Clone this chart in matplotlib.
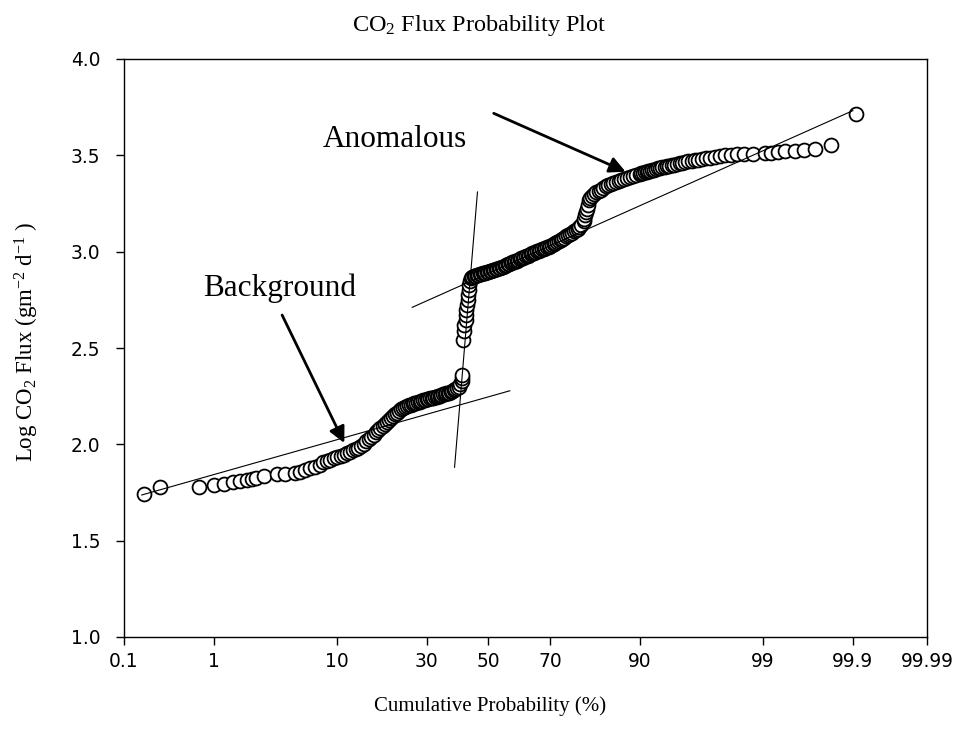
from statistics import NormalDist

import numpy as np
import matplotlib
matplotlib.use("Agg")
import matplotlib.pyplot as plt

plt.rcParams["font.family"] = "DejaVu Sans"
plt.rcParams["mathtext.fontset"] = "custom"
plt.rcParams["mathtext.rm"] = "Liberation Serif"
plt.rcParams["mathtext.it"] = "Liberation Serif:italic"

# cumulative probability (%) and log10 CO2 flux, in rank order
cum_prob = [
    0.175, 0.27, 0.71, 0.99, 1.26, 1.53, 1.76, 2.02, 2.24, 2.44, 2.83, 3.64,
    4.24, 5.07, 5.52, 6.02, 6.54, 7.09, 7.69,
    8, 8.5, 9, 9.5, 10, 10.5, 11, 11.5, 12, 12.5, 13, 13.5, 14, 14.5, 15, 15.5,
    16, 16.5, 17, 17.5, 18, 18.5, 19, 19.5, 20, 20.5, 21, 21.5, 22, 22.5, 23,
    23.5, 24, 24.5, 25, 25.5, 26, 26.5, 27, 27.5, 28, 28.5, 29, 29.5, 30, 30.5,
    31, 31.5, 32, 32.5, 33, 33.5, 34, 34.5, 35, 35.5, 36, 36.5, 37, 37.5, 38,
    38.5, 39, 39.5, 40, 40.5, 41, 41.2, 41.3,
    41.5, 41.7, 41.9, 42.3, 42.5, 42.6, 42.8, 43.0, 43.2, 43.4, 43.6, 43.8,
    44, 44.5, 45, 45.5, 46, 46.5, 47, 47.5, 48, 48.5, 49, 49.5, 50, 50.5, 51,
    51.5, 52, 52.5, 53, 53.5, 54, 54.5, 55, 55.5, 56, 56.5, 57, 57.5, 58, 58.5,
    59, 59.5, 60, 60.5, 61, 61.5, 62, 62.5, 63, 63.5, 64, 64.5, 65, 65.5, 66,
    66.5, 67, 67.5, 68, 68.5, 69, 69.5, 70, 70.5, 71, 71.5, 72, 72.5, 73, 73.5,
    74, 74.5, 75, 75.5, 76, 76.5, 77, 77.5, 78, 78.5, 79, 79.2, 79.4, 79.6,
    79.8, 80, 80.3, 80.6, 81, 81.5, 82, 82.5, 83, 83.5, 84, 84.5, 85, 85.5, 86,
    86.5, 87, 87.5, 88, 88.5, 89, 89.5, 90, 90.25, 90.5, 90.75, 91, 91.25,
    91.5, 91.75, 92, 92.25, 92.5, 92.75, 93, 93.25, 93.5, 93.75, 94, 94.25,
    94.5, 94.75, 95, 95.25, 95.5, 95.75, 96, 96.25, 96.5, 96.75, 97, 97.25,
    97.5, 97.75, 98, 98.25, 98.5, 98.75,
    99.04, 99.17, 99.29, 99.41, 99.53, 99.63, 99.72, 99.815, 99.908,
]
log_flux = [
    1.741, 1.777, 1.780, 1.787, 1.794, 1.803, 1.810, 1.815, 1.820, 1.824,
    1.837, 1.845, 1.846, 1.850, 1.858, 1.867, 1.876, 1.884, 1.893,
    1.907, 1.914, 1.921, 1.928, 1.934, 1.940, 1.947, 1.953, 1.960, 1.968,
    1.976, 1.983, 1.991, 2.003, 2.015, 2.026, 2.038, 2.051, 2.064, 2.075,
    2.087, 2.097, 2.108, 2.117, 2.126, 2.136, 2.147, 2.156, 2.165, 2.173,
    2.181, 2.187, 2.194, 2.198, 2.202, 2.205, 2.209, 2.213, 2.217, 2.219,
    2.222, 2.225, 2.228, 2.230, 2.233, 2.235, 2.238, 2.240, 2.243, 2.245,
    2.248, 2.250, 2.253, 2.256, 2.259, 2.261, 2.264, 2.266, 2.269, 2.273,
    2.277, 2.281, 2.285, 2.291, 2.298, 2.311, 2.329, 2.344, 2.362,
    2.542, 2.588, 2.619, 2.645, 2.671, 2.697, 2.723, 2.749, 2.775, 2.801,
    2.827, 2.848,
    2.863, 2.868, 2.872, 2.875, 2.878, 2.881, 2.883, 2.885, 2.887, 2.889,
    2.891, 2.894, 2.896, 2.899, 2.901, 2.904, 2.906, 2.909, 2.911, 2.914,
    2.917, 2.920, 2.922, 2.926, 2.930, 2.934, 2.937, 2.941, 2.944, 2.948,
    2.951, 2.954, 2.957, 2.961, 2.965, 2.969, 2.972, 2.976, 2.980, 2.984,
    2.988, 2.992, 2.995, 2.998, 3.001, 3.005, 3.008, 3.012, 3.015, 3.019,
    3.022, 3.026, 3.029, 3.034, 3.039, 3.044, 3.049, 3.054, 3.058, 3.065,
    3.072, 3.079, 3.085, 3.092, 3.099, 3.106, 3.112, 3.120, 3.127, 3.140,
    3.159, 3.170, 3.188, 3.206, 3.224, 3.240, 3.266, 3.281, 3.291, 3.301,
    3.310, 3.316, 3.322, 3.331, 3.339, 3.345, 3.350, 3.356, 3.361, 3.367,
    3.372, 3.378, 3.384, 3.389, 3.394, 3.399, 3.404, 3.407, 3.410, 3.412,
    3.415, 3.418, 3.421, 3.423, 3.426, 3.429, 3.432, 3.434, 3.437, 3.440,
    3.443, 3.446, 3.449, 3.452, 3.456, 3.459, 3.462, 3.465, 3.469, 3.472,
    3.475, 3.478, 3.482, 3.485, 3.488, 3.492, 3.497, 3.500, 3.504, 3.506,
    3.506, 3.508,
    3.510, 3.514, 3.517, 3.521, 3.524, 3.528, 3.531, 3.554, 3.715,
]

# straight-line fits for the two populations and the mixing segment
background_fit_p = [0.164, 57.2]
background_fit_y = [1.737, 2.278]
mixing_fit_p = [38.7, 46.3]
mixing_fit_y = [1.881, 3.310]
anomalous_fit_p = [25.9, 99.90]
anomalous_fit_y = [2.711, 3.732]

prob_ticks = [0.1, 1, 10, 30, 50, 70, 90, 99, 99.9, 99.99]
prob_tick_labels = ["0.1", "1", "10", "30", "50", "70", "90", "99", "99.9", "99.99"]
flux_ticks = [1.0, 1.5, 2.0, 2.5, 3.0, 3.5, 4.0]

_nd = NormalDist()
_ppf = np.vectorize(_nd.inv_cdf, otypes=[float])
_cdf = np.vectorize(_nd.cdf, otypes=[float])


def prob_to_z(p):
    p = np.clip(np.asarray(p, dtype=float) / 100.0, 1e-9, 1 - 1e-9)
    return _ppf(p)


def z_to_prob(z):
    return _cdf(np.asarray(z, dtype=float)) * 100.0


serif = "Liberation Serif"

fig = plt.figure(figsize=(9.59, 7.37), dpi=100)
ax = fig.add_axes([124 / 959, 1 - 637 / 737, 803 / 959, 578 / 737])
ax.set_xscale("function", functions=(prob_to_z, z_to_prob))
ax.set_xlim(0.1, 99.99)
ax.set_ylim(1.0, 4.0)

ax.plot(cum_prob, log_flux, "o", ls="none", ms=10, mfc="white", mec="black",
        mew=1.3, zorder=2)

for fp, fy in [(background_fit_p, background_fit_y),
               (mixing_fit_p, mixing_fit_y),
               (anomalous_fit_p, anomalous_fit_y)]:
    ax.plot(fp, fy, color="black", lw=0.8, zorder=3)

arrow = dict(arrowstyle="-|>", color="black", lw=2.0, mutation_scale=24,
             shrinkA=0, shrinkB=0)
ax.annotate("", xy=(11.08, 2.007), xytext=(4.01, 2.671), arrowprops=arrow,
            zorder=4)
ax.annotate("", xy=(87.76, 3.415), xytext=(51.8, 3.718), arrowprops=arrow,
            zorder=4)
ax.text(3.80, 2.770, "Background", ha="center", va="baseline",
        fontsize=22.5, family=serif)
ax.text(21.4, 3.543, "Anomalous", ha="center", va="baseline",
        fontsize=22.5, family=serif)

ax.set_xticks(prob_ticks)
ax.set_xticklabels(prob_tick_labels)
ax.xaxis.set_minor_locator(matplotlib.ticker.NullLocator())
ax.set_yticks(flux_ticks)
ax.set_yticklabels([f"{v:.1f}" for v in flux_ticks])
ax.tick_params(axis="both", direction="out", length=6, width=1.0,
               labelsize=13.4, top=False, right=False)
ax.tick_params(axis="x", pad=5)
ax.tick_params(axis="y", pad=11)
for s in ax.spines.values():
    s.set_linewidth(1.0)

fig.text(0.5, 1 - 31 / 737, r"CO$_{\mathrm{2}}$ Flux Probability Plot",
         ha="center", va="baseline", fontsize=17.5, family=serif)
fig.text(490 / 959, 1 - 706 / 737, "Cumulative Probability (%)",
         ha="center", va="center", fontsize=15, family=serif)
fig.text(27 / 959, 1 - 342 / 737,
         r"Log CO$_{\mathrm{2}}$ Flux (gm$^{\mathrm{-2}}$ d$^{\mathrm{-1}}$ )",
         ha="center", va="center", rotation=90, fontsize=16.5, family=serif)

fig.savefig("out.png", dpi=100)
